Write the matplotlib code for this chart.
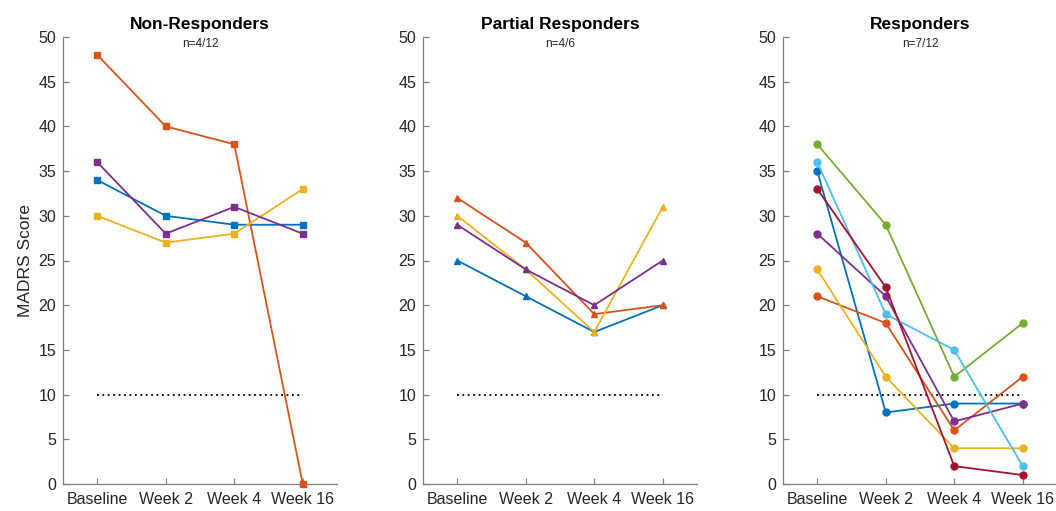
import matplotlib
matplotlib.use("Agg")
import matplotlib.pyplot as plt

plt.rcParams['font.family'] = ['Liberation Sans', 'DejaVu Sans']

timepoints = ["Baseline", "Week 2", "Week 4", "Week 16"]
colors = ["#0072BD", "#D95319", "#EDB120", "#7E2F8E", "#77AC30", "#4DBEEE", "#A2142F"]

non_responders = [
    [34, 30, 29, 29],
    [48, 40, 38, 0],
    [30, 27, 28, 33],
    [36, 28, 31, 28],
]
partial_responders = [
    [25, 21, 17, 20],
    [32, 27, 19, 20],
    [30, 24, 17, 31],
    [29, 24, 20, 25],
]
responders = [
    [35, 8, 9, 9],
    [21, 18, 6, 12],
    [24, 12, 4, 4],
    [28, 21, 7, 9],
    [38, 29, 12, 18],
    [36, 19, 15, 2],
    [33, 22, 2, 1],
]
titles = ["Non-Responders", "Partial Responders", "Responders"]
subtitles = ["n=4/12", "n=4/6", "n=7/12"]
markers = ["s", "^", "o"]
threshold = 10
yticks = list(range(0, 51, 5))

fig = plt.figure(figsize=(10.56, 5.11), dpi=100)
lefts = [63/1056, 423/1056, 783/1056]
w = 274/1056
b = 1 - 484/511
h = (484 - 37)/511
groups = [non_responders, partial_responders, responders]
xs = list(range(1, len(timepoints) + 1))
for i, (data, title, sub, mk) in enumerate(zip(groups, titles, subtitles, markers)):
    ax = fig.add_axes([lefts[i], b, w, h])
    ax.plot([xs[0], xs[-1]], [threshold, threshold], linestyle=(0, (1, 2)), color='black', lw=1.3)
    for j, series in enumerate(data):
        ax.plot(xs, series, color=colors[j], marker=mk, markersize=5,
                lw=1.3, clip_on=False, zorder=3)
    ax.set_xlim(0.5, 4.5)
    ax.set_ylim(0, 50)
    ax.set_xticks(xs)
    ax.set_xticklabels(timepoints)
    ax.set_yticks(yticks)
    for s in ['top', 'right']:
        ax.spines[s].set_visible(False)
    for s in ['left', 'bottom']:
        ax.spines[s].set_color('#808080')
        ax.spines[s].set_linewidth(0.9)
    ax.tick_params(direction='in', length=4, width=0.9, color='#808080',
                   labelcolor='#262626', labelsize=11.5, pad=5)
    ax.tick_params(axis='x', pad=6)
    ax.set_title(title, fontsize=12.5, fontweight='bold', pad=6)
    ax.text(0.5, 0.997, sub, transform=ax.transAxes, ha='center', va='top', fontsize=8.5, color='#262626')
    if i == 0:
        ax.set_ylabel("MADRS Score", fontsize=12.5, color='#262626', labelpad=4)

fig.savefig("out.png", dpi=100)
